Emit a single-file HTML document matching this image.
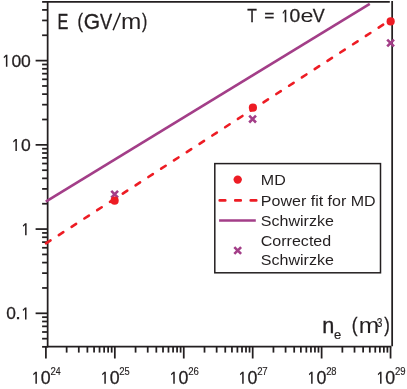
<!DOCTYPE html><html><head><meta charset="utf-8"><style>html,body{margin:0;padding:0;background:#fff}svg{display:block;will-change:transform}text{font-family:"Liberation Sans",sans-serif;fill:#231F20}</style></head><body>
<svg width="407" height="389" viewBox="0 0 407 389">
<rect width="407" height="389" fill="#fff"/>
<g stroke="#231F20" stroke-width="1.75" fill="none">
<line x1="47.65" y1="0.9" x2="47.65" y2="347.15"/>
<line x1="47" y1="1.9" x2="389.8" y2="1.9"/>
<line x1="392.15" y1="0.9" x2="392.15" y2="346.2"/>
<line x1="47" y1="346.5" x2="391.3" y2="346.5"/>
<line x1="42.10" y1="346.83" x2="47.65" y2="346.83"/>
<line x1="42.10" y1="338.67" x2="47.65" y2="338.67"/>
<line x1="42.10" y1="332.00" x2="47.65" y2="332.00"/>
<line x1="42.10" y1="326.36" x2="47.65" y2="326.36"/>
<line x1="42.10" y1="321.48" x2="47.65" y2="321.48"/>
<line x1="42.10" y1="317.17" x2="47.65" y2="317.17"/>
<line x1="35.60" y1="313.31" x2="47.65" y2="313.31"/>
<line x1="42.10" y1="287.96" x2="47.65" y2="287.96"/>
<line x1="42.10" y1="273.13" x2="47.65" y2="273.13"/>
<line x1="42.10" y1="262.60" x2="47.65" y2="262.60"/>
<line x1="42.10" y1="254.44" x2="47.65" y2="254.44"/>
<line x1="42.10" y1="247.77" x2="47.65" y2="247.77"/>
<line x1="42.10" y1="242.13" x2="47.65" y2="242.13"/>
<line x1="42.10" y1="237.25" x2="47.65" y2="237.25"/>
<line x1="42.10" y1="232.94" x2="47.65" y2="232.94"/>
<line x1="35.60" y1="229.08" x2="47.65" y2="229.08"/>
<line x1="42.10" y1="203.73" x2="47.65" y2="203.73"/>
<line x1="42.10" y1="188.90" x2="47.65" y2="188.90"/>
<line x1="42.10" y1="178.37" x2="47.65" y2="178.37"/>
<line x1="42.10" y1="170.21" x2="47.65" y2="170.21"/>
<line x1="42.10" y1="163.54" x2="47.65" y2="163.54"/>
<line x1="42.10" y1="157.90" x2="47.65" y2="157.90"/>
<line x1="42.10" y1="153.02" x2="47.65" y2="153.02"/>
<line x1="42.10" y1="148.71" x2="47.65" y2="148.71"/>
<line x1="35.60" y1="144.85" x2="47.65" y2="144.85"/>
<line x1="42.10" y1="119.50" x2="47.65" y2="119.50"/>
<line x1="42.10" y1="104.67" x2="47.65" y2="104.67"/>
<line x1="42.10" y1="94.14" x2="47.65" y2="94.14"/>
<line x1="42.10" y1="85.98" x2="47.65" y2="85.98"/>
<line x1="42.10" y1="79.31" x2="47.65" y2="79.31"/>
<line x1="42.10" y1="73.67" x2="47.65" y2="73.67"/>
<line x1="42.10" y1="68.79" x2="47.65" y2="68.79"/>
<line x1="42.10" y1="64.48" x2="47.65" y2="64.48"/>
<line x1="35.60" y1="60.62" x2="47.65" y2="60.62"/>
<line x1="42.10" y1="35.27" x2="47.65" y2="35.27"/>
<line x1="42.10" y1="20.44" x2="47.65" y2="20.44"/>
<line x1="42.10" y1="9.91" x2="47.65" y2="9.91"/>
<line x1="42.10" y1="1.90" x2="47.65" y2="1.90"/>
<line x1="45.90" y1="346.5" x2="45.90" y2="358.50"/>
<line x1="66.65" y1="346.5" x2="66.65" y2="352.60"/>
<line x1="78.79" y1="346.5" x2="78.79" y2="352.60"/>
<line x1="87.40" y1="346.5" x2="87.40" y2="352.60"/>
<line x1="94.08" y1="346.5" x2="94.08" y2="352.60"/>
<line x1="99.54" y1="346.5" x2="99.54" y2="352.60"/>
<line x1="104.15" y1="346.5" x2="104.15" y2="352.60"/>
<line x1="108.15" y1="346.5" x2="108.15" y2="352.60"/>
<line x1="111.68" y1="346.5" x2="111.68" y2="352.60"/>
<line x1="114.83" y1="346.5" x2="114.83" y2="358.50"/>
<line x1="135.58" y1="346.5" x2="135.58" y2="352.60"/>
<line x1="147.72" y1="346.5" x2="147.72" y2="352.60"/>
<line x1="156.33" y1="346.5" x2="156.33" y2="352.60"/>
<line x1="163.01" y1="346.5" x2="163.01" y2="352.60"/>
<line x1="168.47" y1="346.5" x2="168.47" y2="352.60"/>
<line x1="173.08" y1="346.5" x2="173.08" y2="352.60"/>
<line x1="177.08" y1="346.5" x2="177.08" y2="352.60"/>
<line x1="180.61" y1="346.5" x2="180.61" y2="352.60"/>
<line x1="183.76" y1="346.5" x2="183.76" y2="358.50"/>
<line x1="204.51" y1="346.5" x2="204.51" y2="352.60"/>
<line x1="216.65" y1="346.5" x2="216.65" y2="352.60"/>
<line x1="225.26" y1="346.5" x2="225.26" y2="352.60"/>
<line x1="231.94" y1="346.5" x2="231.94" y2="352.60"/>
<line x1="237.40" y1="346.5" x2="237.40" y2="352.60"/>
<line x1="242.01" y1="346.5" x2="242.01" y2="352.60"/>
<line x1="246.01" y1="346.5" x2="246.01" y2="352.60"/>
<line x1="249.54" y1="346.5" x2="249.54" y2="352.60"/>
<line x1="252.69" y1="346.5" x2="252.69" y2="358.50"/>
<line x1="273.44" y1="346.5" x2="273.44" y2="352.60"/>
<line x1="285.58" y1="346.5" x2="285.58" y2="352.60"/>
<line x1="294.19" y1="346.5" x2="294.19" y2="352.60"/>
<line x1="300.87" y1="346.5" x2="300.87" y2="352.60"/>
<line x1="306.33" y1="346.5" x2="306.33" y2="352.60"/>
<line x1="310.94" y1="346.5" x2="310.94" y2="352.60"/>
<line x1="314.94" y1="346.5" x2="314.94" y2="352.60"/>
<line x1="318.47" y1="346.5" x2="318.47" y2="352.60"/>
<line x1="321.62" y1="346.5" x2="321.62" y2="358.50"/>
<line x1="342.37" y1="346.5" x2="342.37" y2="352.60"/>
<line x1="354.51" y1="346.5" x2="354.51" y2="352.60"/>
<line x1="363.12" y1="346.5" x2="363.12" y2="352.60"/>
<line x1="369.80" y1="346.5" x2="369.80" y2="352.60"/>
<line x1="375.26" y1="346.5" x2="375.26" y2="352.60"/>
<line x1="379.87" y1="346.5" x2="379.87" y2="352.60"/>
<line x1="383.87" y1="346.5" x2="383.87" y2="352.60"/>
<line x1="387.40" y1="346.5" x2="387.40" y2="352.60"/>
<line x1="390.55" y1="346.5" x2="390.55" y2="358.50"/>
</g>
<line x1="45.8" y1="201.6" x2="369.75" y2="3.85" stroke="#A33E88" stroke-width="2.6"/>
<line x1="46.0" y1="243.40" x2="389.5" y2="20.60" stroke="#ED1C24" stroke-width="2.6" stroke-linecap="round" stroke-dasharray="5.4 9.85"/>
<path d="M111.25 190.80L118.05 197.60M111.25 197.60L118.05 190.80" stroke="#A33E88" stroke-width="2.6" fill="none"/>
<path d="M249.20 115.70L256.00 122.50M249.20 122.50L256.00 115.70" stroke="#A33E88" stroke-width="2.6" fill="none"/>
<path d="M387.20 39.60L394.00 46.40M387.20 46.40L394.00 39.60" stroke="#A33E88" stroke-width="2.6" fill="none"/>
<circle cx="114.60" cy="200.65" r="4.1" fill="#ED1C24"/>
<circle cx="252.90" cy="107.70" r="4.1" fill="#ED1C24"/>
<circle cx="390.65" cy="21.40" r="4.1" fill="#ED1C24"/>
<text transform="matrix(0.8786 0 0 0.8686 20.964 66.705)" font-size="20" stroke="#231F20" stroke-width="0.3">0</text>
<text transform="matrix(0.8786 0 0 0.8686 11.464 66.705)" font-size="20" stroke="#231F20" stroke-width="0.3">0</text>
<path fill="#231F20" d="M5.90 54.72H7.40V66.72H5.90V56.47L4.05 58.27L3.60 57.12Z"/>
<text transform="matrix(0.8786 0 0 0.8686 20.964 150.935)" font-size="20" stroke="#231F20" stroke-width="0.3">0</text>
<path fill="#231F20" d="M15.40 138.95H16.90V150.95H15.40V140.70L13.55 142.50L13.10 141.35Z"/>
<path fill="#231F20" d="M25.10 223.18H26.60V235.18H25.10V224.93L23.25 226.73L22.80 225.58Z"/>
<path fill="#231F20" d="M25.00 307.41H26.50V319.41H25.00V309.16L23.15 310.96L22.70 309.81Z"/>
<text transform="matrix(0.9977 0 0 0.8884 15.278 319.414)" font-size="20" stroke="#231F20" stroke-width="0.3">.</text>
<text transform="matrix(0.8682 0 0 0.8686 6.172 319.395)" font-size="20" stroke="#231F20" stroke-width="0.3">0</text>
<path fill="#231F20" d="M35.40 371.70H36.90V383.80H35.40V373.45L33.55 375.25L33.10 374.10Z"/>
<text transform="matrix(0.8891 0 0 0.8757 40.705 383.779)" font-size="20" stroke="#231F20" stroke-width="0.3">0</text>
<text transform="matrix(0.4829 0 0 0.5084 50.414 374.700)" font-size="20" stroke="#231F20" stroke-width="0.3">2</text>
<text transform="matrix(0.4366 0 0 0.5087 55.800 374.700)" font-size="20" stroke="#231F20" stroke-width="0.3">4</text>
<path fill="#231F20" d="M104.33 371.70H105.83V383.80H104.33V373.45L102.48 375.25L102.03 374.10Z"/>
<text transform="matrix(0.8891 0 0 0.8757 109.635 383.779)" font-size="20" stroke="#231F20" stroke-width="0.3">0</text>
<text transform="matrix(0.4829 0 0 0.5084 119.344 374.700)" font-size="20" stroke="#231F20" stroke-width="0.3">2</text>
<text transform="matrix(0.4640 0 0 0.5088 124.558 374.701)" font-size="20" stroke="#231F20" stroke-width="0.3">5</text>
<path fill="#231F20" d="M173.26 371.70H174.76V383.80H173.26V373.45L171.41 375.25L170.96 374.10Z"/>
<text transform="matrix(0.8891 0 0 0.8757 178.565 383.779)" font-size="20" stroke="#231F20" stroke-width="0.3">0</text>
<text transform="matrix(0.4829 0 0 0.5084 188.274 374.700)" font-size="20" stroke="#231F20" stroke-width="0.3">2</text>
<text transform="matrix(0.4768 0 0 0.5085 193.376 374.701)" font-size="20" stroke="#231F20" stroke-width="0.3">6</text>
<path fill="#231F20" d="M242.19 371.70H243.69V383.80H242.19V373.45L240.34 375.25L239.89 374.10Z"/>
<text transform="matrix(0.8891 0 0 0.8757 247.495 383.779)" font-size="20" stroke="#231F20" stroke-width="0.3">0</text>
<text transform="matrix(0.4829 0 0 0.5084 257.204 374.700)" font-size="20" stroke="#231F20" stroke-width="0.3">2</text>
<text transform="matrix(0.4840 0 0 0.5087 262.294 374.700)" font-size="20" stroke="#231F20" stroke-width="0.3">7</text>
<path fill="#231F20" d="M311.12 371.70H312.62V383.80H311.12V373.45L309.27 375.25L308.82 374.10Z"/>
<text transform="matrix(0.8891 0 0 0.8757 316.425 383.779)" font-size="20" stroke="#231F20" stroke-width="0.3">0</text>
<text transform="matrix(0.4829 0 0 0.5084 326.134 374.700)" font-size="20" stroke="#231F20" stroke-width="0.3">2</text>
<text transform="matrix(0.4688 0 0 0.5085 331.313 374.701)" font-size="20" stroke="#231F20" stroke-width="0.3">8</text>
<path fill="#231F20" d="M380.05 371.70H381.55V383.80H380.05V373.45L378.20 375.25L377.75 374.10Z"/>
<text transform="matrix(0.8891 0 0 0.8757 385.355 383.779)" font-size="20" stroke="#231F20" stroke-width="0.3">0</text>
<text transform="matrix(0.4829 0 0 0.5084 395.064 374.700)" font-size="20" stroke="#231F20" stroke-width="0.3">2</text>
<text transform="matrix(0.4763 0 0 0.5085 400.203 374.701)" font-size="20" stroke="#231F20" stroke-width="0.3">9</text>
<text transform="matrix(0.8118 0 0 1.1483 57.568 29.300)" font-size="20" stroke="#231F20" stroke-width="0.3">E</text>
<text transform="matrix(0.8298 0 0 1.0519 77.471 27.944)" font-size="20" stroke="#231F20" stroke-width="0.3">(</text>
<text transform="matrix(1.0493 0 0 1.1441 83.645 29.277)" font-size="20" stroke="#231F20" stroke-width="0.3">G</text>
<text transform="matrix(0.9116 0 0 1.1483 99.920 29.300)" font-size="20" stroke="#231F20" stroke-width="0.3">V</text>
<text transform="matrix(1.2202 0 0 1.0965 121.079 29.300)" font-size="20">m</text>
<text transform="matrix(0.7920 0 0 1.0519 141.907 27.944)" font-size="20" stroke="#231F20" stroke-width="0.3">)</text>
<text transform="matrix(1.0829 0 0 1.0872 322.262 333.300)" font-size="20" stroke="#231F20" stroke-width="0.3">n</text>
<text transform="matrix(0.6500 0 0 0.6845 334.048 339.366)" font-size="20" stroke="#231F20" stroke-width="0.3">e</text>
<text transform="matrix(0.8675 0 0 1.0519 351.724 332.044)" font-size="20" stroke="#231F20" stroke-width="0.3">(</text>
<text transform="matrix(1.2274 0 0 1.0872 358.670 333.300)" font-size="20">m</text>
<text transform="matrix(0.8298 0 0 1.0519 384.203 332.044)" font-size="20" stroke="#231F20" stroke-width="0.3">)</text>
<text transform="matrix(0.5062 0 0 0.6497 376.714 326.573)" font-size="20" stroke="#231F20" stroke-width="0.3">3</text>
<line x1="113.1" y1="30.3" x2="120.4" y2="12.9" stroke="#231F20" stroke-width="1.5"/>
<text transform="matrix(0.7870 0 0 0.9157 247.346 22.300)" font-size="20" stroke="#231F20" stroke-width="0.3">T</text>
<text transform="matrix(0.8748 0 0 0.8378 264.246 21.215)" font-size="20" stroke="#231F20" stroke-width="0.3">=</text>
<text transform="matrix(0.9623 0 0 0.9181 289.548 22.321)" font-size="20" stroke="#231F20" stroke-width="0.3">0</text>
<text transform="matrix(1.1721 0 0 0.8853 300.404 22.327)" font-size="20">e</text>
<text transform="matrix(0.8964 0 0 0.9157 312.721 22.300)" font-size="20" stroke="#231F20" stroke-width="0.3">V</text>
<path fill="#231F20" d="M284.70 9.70H286.30V22.30H284.70V11.50L283.05 13.90L282.60 12.70Z"/>
<rect x="214.8" y="163.6" width="165.7" height="109.2" fill="#fff" stroke="#231F20" stroke-width="1.5"/>
<circle cx="237.7" cy="179.6" r="4.2" fill="#ED1C24"/>
<line x1="219.7" y1="200.4" x2="256.5" y2="200.4" stroke="#ED1C24" stroke-width="2.6" stroke-linecap="round" stroke-dasharray="5.6 9.9"/>
<line x1="219.1" y1="220.5" x2="255.8" y2="220.5" stroke="#A33E88" stroke-width="2.5"/>
<path d="M234.30 247.10L241.10 253.90M234.30 253.90L241.10 247.10" stroke="#A33E88" stroke-width="2.6" fill="none"/>
<text transform="translate(260.8,185.0) scale(1.049,1)" font-size="15.3">MD</text>
<text transform="translate(260.8,206.3) scale(1.049,1)" font-size="15.3">Power fit for MD</text>
<text transform="translate(260.8,225.7) scale(1.049,1)" font-size="15.3">Schwirzke</text>
<text transform="translate(260.8,246.3) scale(1.049,1)" font-size="15.3">Corrected</text>
<text transform="translate(260.8,264.5) scale(1.049,1)" font-size="15.3">Schwirzke</text>
</svg></body></html>
